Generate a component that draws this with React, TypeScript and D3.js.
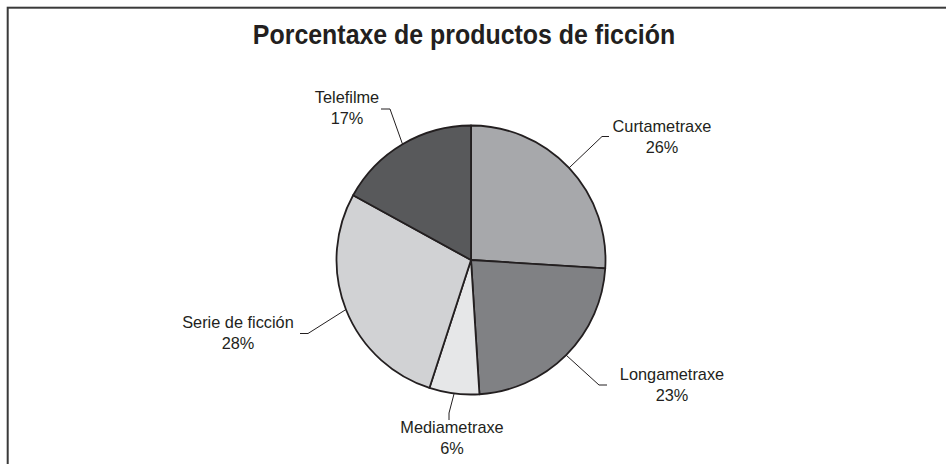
import * as d3 from "d3";
import { useEffect } from "react";

const title = "Porcentaxe de productos de ficción";
const categories = ["Curtametraxe", "Longametraxe", "Mediametraxe", "Serie de ficción", "Telefilme"];
const values = [26, 23, 6, 28, 17];

const fills: Record<string, string> = {
  Curtametraxe: "#a7a8ab",
  Longametraxe: "#808184",
  Mediametraxe: "#e6e7e8",
  "Serie de ficción": "#d1d2d4",
  Telefilme: "#58595b",
};

// label text anchor (center, first baseline) and leader elbow/end, relative to pie center
const labelLayout: Record<string, { lx: number; ly: number; elbow: [number, number]; end: [number, number] }> = {
  Curtametraxe: { lx: 191, ly: -128, elbow: [131, -123.5], end: [138, -123.5] },
  Longametraxe: { lx: 201, ly: 120, elbow: [128, 125], end: [136, 125] },
  Mediametraxe: { lx: -19, ly: 173, elbow: [-22, 153], end: [-22, 160] },
  "Serie de ficción": { lx: -233, ly: 68, elbow: [-163, 73.5], end: [-171, 73.5] },
  Telefilme: { lx: -124, ly: -157, elbow: [-81, -151], end: [-90, -151] },
};

const W = 946;
const H = 464;
const cx = 471;
const cy = 260;
const R = 134.5;
const ink = "#231f20";
const font = "'Liberation Sans', Arial, sans-serif";

export default function App() {
  useEffect(() => {
    document.body.style.margin = "0";
  }, []);

  const rows = categories.map((c, i) => ({ name: c, value: values[i] }));
  const pie = d3
    .pie<{ name: string; value: number }>()
    .sort(null)
    .value((d) => d.value);
  const arcs = pie(rows);
  const arc = d3.arc<d3.PieArcDatum<{ name: string; value: number }>>().innerRadius(0).outerRadius(R);
  const total = d3.sum(values);

  return (
    <svg width={W} height={H} style={{ display: "block", background: "#fff" }} fontFamily={font}>
      <rect x={7.7} y={7.7} width={W + 20} height={H + 20} fill="none" stroke="#3a3a3a" strokeWidth={2} />
      {/* source font is a condensed grotesque: a taller size squeezed horizontally */}
      <text transform="translate(464,43.5) scale(0.89,1)" textAnchor="middle" fontSize={28} fontWeight="bold" fill={ink}>
        {title}
      </text>
      <g transform={`translate(${cx},${cy})`}>
        {arcs.map((a) => (
          <path key={a.data.name} d={arc(a) ?? ""} fill={fills[a.data.name]} stroke={ink} strokeWidth={1.8} strokeLinejoin="round" />
        ))}
        {arcs.map((a) => {
          const mid = (a.startAngle + a.endAngle) / 2;
          const sx = R * Math.sin(mid);
          const sy = -R * Math.cos(mid);
          const L = labelLayout[a.data.name];
          const pct = Math.round((a.data.value / total) * 100);
          return (
            <g key={"lab-" + a.data.name}>
              <polyline
                points={`${sx},${sy} ${L.elbow[0]},${L.elbow[1]} ${L.end[0]},${L.end[1]}`}
                fill="none"
                stroke={ink}
                strokeWidth={1}
              />
              <g transform={`translate(${L.lx},${L.ly}) scale(0.96,1)`}>
                <text x={0} y={0} textAnchor="middle" fontSize={17} fill={ink}>
                  {a.data.name}
                </text>
                <text x={0} y={21.3} textAnchor="middle" fontSize={17} fill={ink}>
                  {pct}%
                </text>
              </g>
            </g>
          );
        })}
      </g>
    </svg>
  );
}
